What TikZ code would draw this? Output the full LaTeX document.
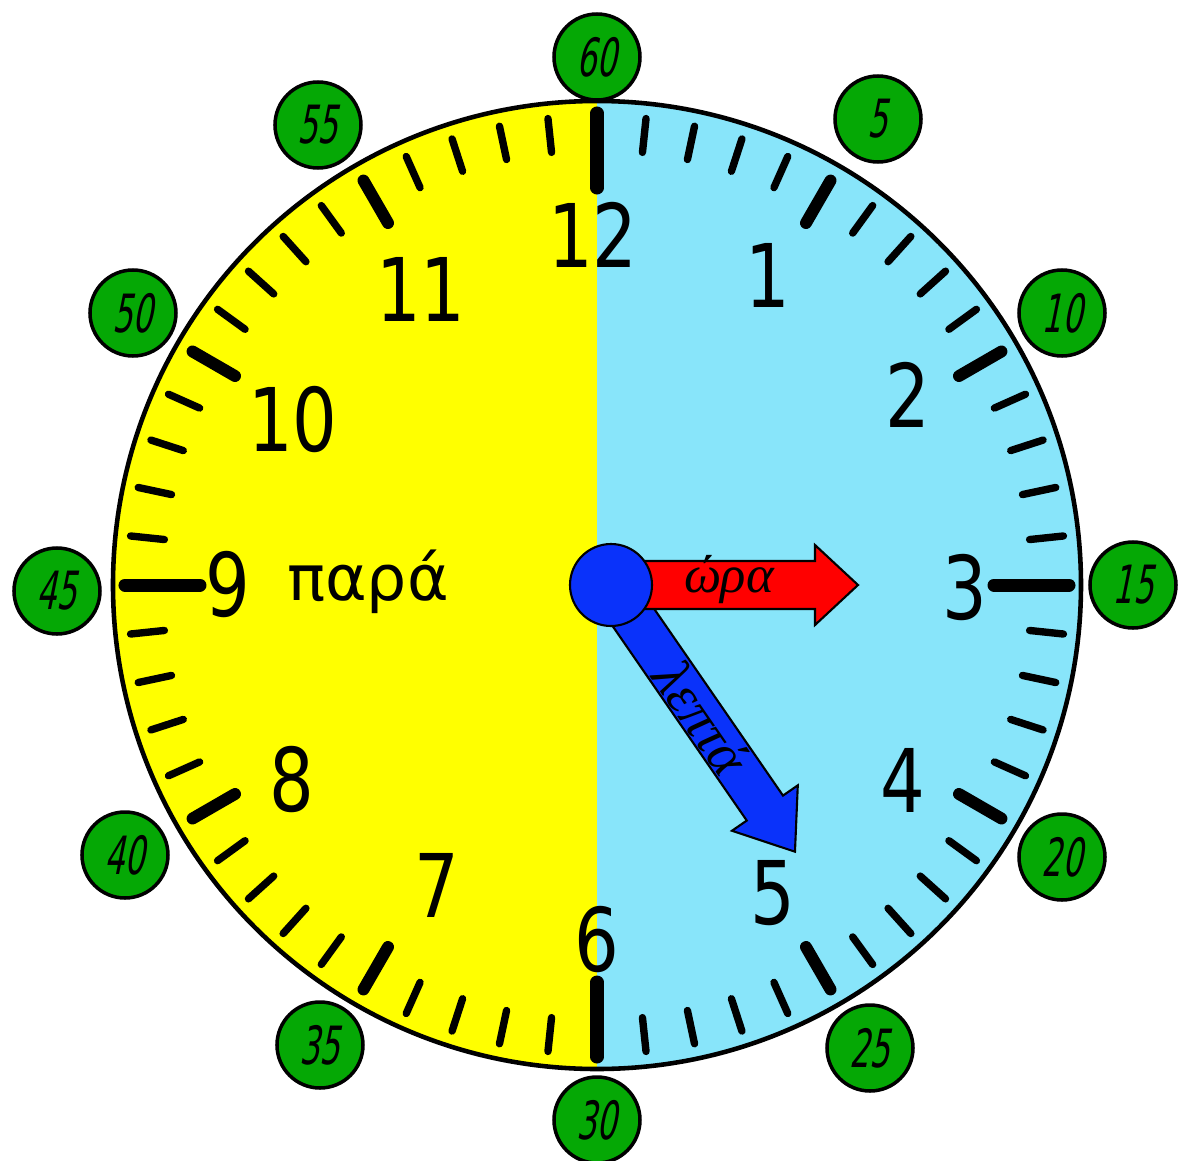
\documentclass[tikz,border=0pt]{standalone}
\usepackage{fontspec}
\newfontfamily\dialfont[FakeStretch=0.8]{DejaVu Sans}
\newfontfamily\parafont{DejaVu Sans}
\newfontfamily\badgefont[FakeStretch=0.6,FakeSlant=0.2]{DejaVu Sans}
\newfontfamily\handfont{Liberation Serif}
\usetikzlibrary{positioning}
\definecolor{dialyellow}{RGB}{255,255,0}
\definecolor{dialblue}{RGB}{136,229,250}
\definecolor{badgegreen}{RGB}{5,168,5}
\definecolor{handred}{RGB}{255,0,0}
\definecolor{handblue}{RGB}{10,50,250}

\begin{document}
\begin{tikzpicture}[
    line cap=round,
    hour/.style={font=\dialfont\fontsize{25}{25}\selectfont, inner sep=0pt},
    badge/.style={circle, draw, line width=1pt, fill=badgegreen, minimum size=8.6mm,
        inner sep=0pt, font=\badgefont\fontsize{15}{15}\selectfont},
    hand/.style={draw=black, line width=0.6pt, line join=miter},
    handtext/.style={font=\handfont\itshape\fontsize{15}{15}\selectfont, inner sep=0pt}
]
    \useasboundingbox (-5.97,-5.75) rectangle (5.81,5.85);

    % Dial
    \fill[dialyellow] (0,-4.84) arc (270:90:4.84) -- cycle;
    \fill[dialblue] (0,4.84) arc (90:-90:4.84) -- cycle;
    \draw[line width=1.3pt] (0,0) circle (4.84);

    % Ticks
    \foreach \a in {0,6,...,354}
        \draw[line width=2.1pt] (\a:4.35) -- (\a:4.69);
    \foreach \a in {0,30,...,330}
        \draw[line width=3.4pt] (\a:4.18) -- (\a:4.67);
    \foreach \a in {0,90,180,270}
        \draw[line width=3.7pt] (\a:3.97) -- (\a:4.72);

    % Hours
    \node[hour] (h12) at (-0.04,3.50) {12};
    \node[hour] (h1) at (1.71,3.10) {1};
    \node[hour] (h2) at (3.11,1.90) {2};
    \node[hour] (h3) at (3.68,-0.03) {3};
    \node[hour] (h4) at (3.06,-1.95) {4};
    \node[hour] (h5) at (1.76,-3.08) {5};
    \node[hour] (h6) at (0.00,-3.55) {6};
    \node[hour] (h7) at (-1.60,-3.00) {7};
    \node[hour] (h8) at (-3.05,-1.95) {8};
    \node[hour] (h9) at (-3.69,0.00) {9};
    \node[hour] (h10) at (-3.04,1.65) {10};
    \node[hour] (h11) at (-1.76,2.96) {11};

    \node[font=\parafont\fontsize{18}{18}\selectfont] (para) at (-2.29,0.03) {παρά};

    % Minutes
    \node[badge] (m60) at (0,5.28) {60};
    \node[badge] (m5) at (2.81,4.66) {5};
    \node[badge] (m10) at (4.65,2.72) {10};
    \node[badge] (m15) at (5.36,0) {15};
    \node[badge] (m20) at (4.65,-2.72) {20};
    \node[badge] (m25) at (2.73,-4.63) {25};
    \node[badge] (m30) at (0,-5.35) {30};
    \node[badge] (m35) at (-2.77,-4.60) {35};
    \node[badge] (m40) at (-4.72,-2.70) {40};
    \node[badge] (m45) at (-5.40,-0.06) {45};
    \node[badge] (m50) at (-4.64,2.72) {50};
    \node[badge] (m55) at (-2.79,4.60) {55};

    % Hands
    \begin{scope}[shift={(0.14,0)}, rotate=-55.4]
        \filldraw[hand, fill=handblue] (0,0.22) -- (2.71,0.22) -- (2.71,0.40) -- (3.24,0)
            -- (2.71,-0.40) -- (2.71,-0.22) -- (0,-0.22) -- cycle;
    \end{scope}
    \begin{scope}[shift={(0.14,0)}]
        \filldraw[hand, fill=handred] (0,0.24) -- (2.04,0.24) -- (2.04,0.40) -- (2.47,0)
            -- (2.04,-0.40) -- (2.04,-0.24) -- (0,-0.24) -- cycle;
    \end{scope}
    \node[circle, hand, fill=handblue, minimum size=8.2mm, inner sep=0pt] (hub) at (0.14,0) {};

    \node[handtext] (hr) at (1.32,0.05) {ώρα};
    \node[handtext, font=\handfont\itshape\fontsize{16}{16}\selectfont, rotate=-55.4]
        (mn) at (1.05,-1.33) {λεπτά};

\end{tikzpicture}
\end{document}
